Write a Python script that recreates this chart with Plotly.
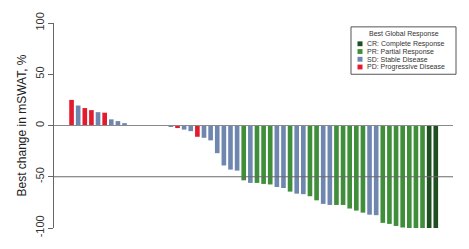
import plotly.graph_objects as go

# Best change in mSWAT (%) per patient, in waterfall order (None = no bar)
values = [25, 19.5, 17, 15, 13, 12.5, 6, 4.3, 2.3,
          None, None, None, None, None, None,
          -1, -2.5, -4, -5.5, -11, -12, -14.5, -27, -39, -43, -44,
          -53.5, -56, -56, -57, -57.5, -60, -61, -64.5, -66.5, -67,
          -69, -73, -76.5, -77.5, -77.5, -77.5, -81, -83, -85, -87, -87.5,
          -95, -96, -98, -99.5, -100, -100, -100, -100, -100]
responses = ["PD", "SD", "PD", "PD", "SD", "PD", "SD", "SD", "SD",
             None, None, None, None, None, None,
             "SD", "PD", "SD", "SD", "PD", "SD", "SD", "SD", "SD", "SD", "SD",
             "PR", "SD", "PR", "PR", "PR", "SD", "SD", "PR", "SD", "SD",
             "PR", "PR", "SD", "SD", "PR", "PR", "PR", "PR", "PR", "SD", "SD",
             "PR", "PR", "PR", "PR", "PR", "PR", "PR", "CR", "CR"]

groups = ["CR", "PR", "SD", "PD"]
group_labels = ["CR: Complete Response", "PR: Partial Response",
                "SD: Stable Disease", "PD: Progressive Disease"]
group_colors = ["#1f4f20", "#3e8e3a", "#6f87ae", "#e31b2f"]
legend_title = "Best Global Response"

W, H = 469, 249
ML, MR, MT, MB = 54, 16, 19, 18
PW, PH = W - ML - MR, H - MT - MB


def px_x(px):
    return (px - ML) / PW


def px_y(py):
    return (H - MB - py) / PH


fig = go.Figure()
for g, lab, col in zip(groups, group_labels, group_colors):
    xs = [i for i, r in enumerate(responses) if r == g]
    ys = [values[i] for i in xs]
    fig.add_trace(go.Bar(x=xs, y=ys, name=lab, marker=dict(color=col, line=dict(width=0)),
                         width=0.7, showlegend=False))

fig.add_shape(type="line", xref="paper", yref="y", x0=0, x1=1, y0=0, y1=0,
              line=dict(color="#8a8a8a", width=1), layer="above")
fig.add_shape(type="line", xref="paper", yref="y", x0=0, x1=1, y0=-50, y1=-50,
              line=dict(color="#6a6a6a", width=1), layer="above")

# legend box drawn by hand (compact R-style legend)
bx0, bx1, by0, by1 = 351, 456, 23, 72
fig.add_shape(type="rect", xref="paper", yref="paper",
              x0=px_x(bx0), x1=px_x(bx1), y0=px_y(by1), y1=px_y(by0),
              line=dict(color="#555555", width=1), fillcolor="white", layer="above")
fig.add_annotation(xref="paper", yref="paper", x=px_x((bx0 + bx1) / 2), y=px_y(30.5),
                   text=legend_title, showarrow=False, xanchor="center", yanchor="middle",
                   font=dict(size=7, color="#333333"), borderpad=0)
for k, (lab, col) in enumerate(zip(group_labels, group_colors)):
    cy = 40.5 + k * 8
    fig.add_shape(type="rect", xref="paper", yref="paper",
                  x0=px_x(357.5), x1=px_x(362.5), y0=px_y(cy + 2.5), y1=px_y(cy - 2.5),
                  line=dict(width=0), fillcolor=col, layer="above")
    fig.add_annotation(xref="paper", yref="paper", x=px_x(366), y=px_y(cy),
                       text=lab, showarrow=False, xanchor="left", yanchor="middle",
                       font=dict(size=7, color="#333333"), borderpad=0)

fig.update_layout(
    width=W, height=H,
    margin=dict(l=ML, r=MR, t=MT, b=MB),
    paper_bgcolor="white", plot_bgcolor="white",
    barmode="overlay",
    font=dict(family="Liberation Sans, Arial, sans-serif", color="#333333"),
    showlegend=False,
)
fig.update_xaxes(range=[-2.65, 57.6], showticklabels=False, showline=False,
                 showgrid=False, zeroline=False, ticks="")
fig.update_yaxes(range=[-100, 100], tickvals=[100, 50, 0, -50, -100],
                 ticktext=["100", "50", "0", "-50", "-100"],
                 tickangle=-90, ticks="outside", ticklen=5, tickcolor="#666666",
                 showline=True, linecolor="#666666", linewidth=1,
                 showgrid=False, zeroline=False,
                 tickfont=dict(size=11, color="#333333"),
                 title=dict(text="Best change in mSWAT, %", font=dict(size=12, color="#222222"),
                            standoff=4))

fig.write_html("out.html")
